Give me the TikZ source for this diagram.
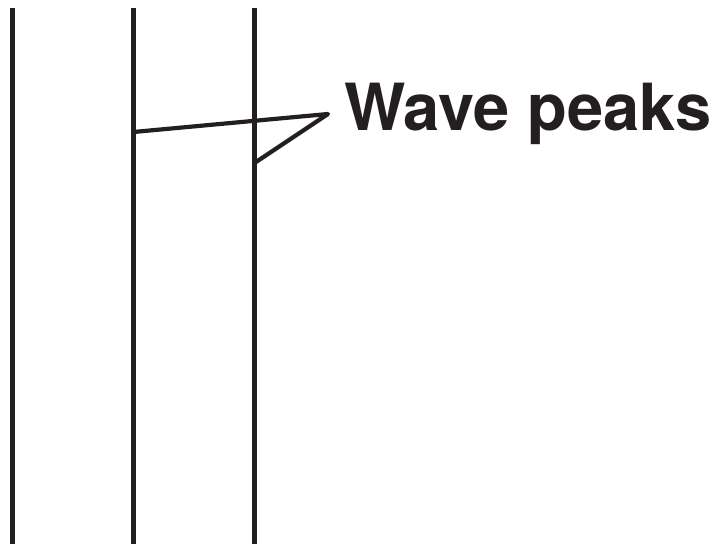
\documentclass[tikz,border=0pt]{standalone}
\usepackage{fontspec}
\setmainfont{TeX Gyre Heros}
\definecolor{ink}{HTML}{231F20}
\tikzset{
    front/.style={line width=4.6pt, draw=ink},
    leader/.style={line width=4.2pt, draw=ink, line cap=round, line join=round},
    tag/.style={font=\bfseries\fontsize{65}{72}\selectfont, text=ink, inner sep=0pt, anchor=base west}
}
\begin{document}
\begin{tikzpicture}[x=1pt, y=1pt]
\useasboundingbox (0, 0) rectangle (720, 544);
% wave fronts
\foreach \x/\n in {12.7/a, 133.5/b, 254.5/c} {
    \coordinate (\n top) at (\x, 536);
    \coordinate (\n bot) at (\x, 0);
    \draw[front] (\n top) -- (\n bot);
}
% label and leaders
\node[tag] (peaks) at (344, 413) {Wave peaks};
\coordinate (tip) at (328, 430);
\coordinate (hitb) at (133.5, 412);
\coordinate (hitc) at (256, 382);
\draw[leader] (hitb) -- (tip) -- (hitc);
\end{tikzpicture}
\end{document}
